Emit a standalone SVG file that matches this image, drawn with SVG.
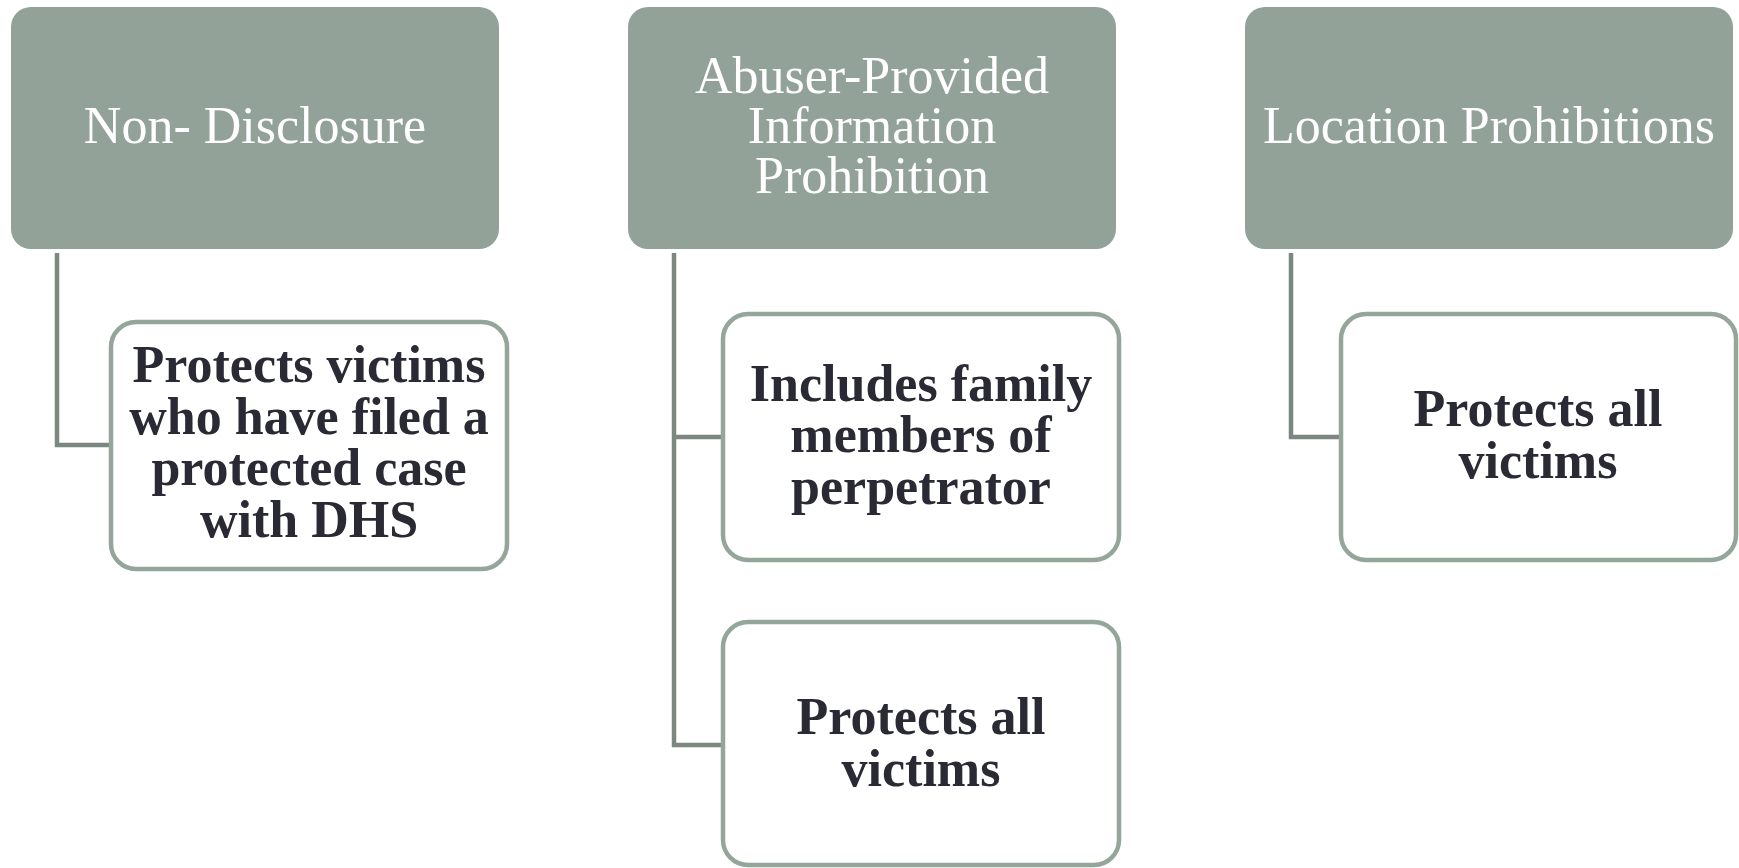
<svg xmlns="http://www.w3.org/2000/svg" width="1739" height="868" viewBox="0 0 1739 868">
<style>
.head rect{fill:#92a298;}
.head text{fill:#ffffff;font-family:"Liberation Serif",serif;font-size:52px;text-anchor:middle;}
.child rect{fill:#ffffff;stroke:#94a69a;stroke-width:4.5;}
.child text{fill:#2a2a35;font-family:"Liberation Serif",serif;font-size:52px;font-weight:bold;text-anchor:middle;}
#connectors path{fill:none;stroke:#7b8880;stroke-width:4.5;}
</style>
<rect width="1739" height="868" fill="#ffffff"/>
<g id="connectors">
<path d="M57,253 V445 H111"/>
<path d="M674,253 V745 H723 M674,437 H723"/>
<path d="M1291,253 V437 H1341"/>
</g>
<g id="h1" class="head">
<rect x="11" y="7" width="488" height="242" rx="20"/>
<text x="255" y="143">Non- Disclosure</text>
</g>
<g id="h2" class="head">
<rect x="628" y="7" width="488" height="242" rx="20"/>
<text x="872" y="93">Abuser-Provided</text>
<text x="872" y="143">Information</text>
<text x="872" y="193">Prohibition</text>
</g>
<g id="h3" class="head">
<rect x="1245" y="7" width="488" height="242" rx="20"/>
<text x="1489" y="143">Location Prohibitions</text>
</g>
<g id="c1" class="child">
<rect x="111" y="322" width="396" height="247" rx="25"/>
<text x="309" y="382">Protects victims</text>
<text x="309" y="433.5">who have filed a</text>
<text x="309" y="485">protected case</text>
<text x="309" y="536.5">with DHS</text>
</g>
<g id="c2a" class="child">
<rect x="723" y="314" width="396" height="246" rx="25"/>
<text x="921" y="400.5">Includes family</text>
<text x="921" y="452">members of</text>
<text x="921" y="503.5">perpetrator</text>
</g>
<g id="c2b" class="child">
<rect x="723" y="622" width="396" height="243" rx="25"/>
<text x="921" y="734">Protects all</text>
<text x="921" y="786">victims</text>
</g>
<g id="c3" class="child">
<rect x="1341" y="314" width="395" height="246" rx="25"/>
<text x="1538" y="426">Protects all</text>
<text x="1538" y="478">victims</text>
</g>
</svg>
